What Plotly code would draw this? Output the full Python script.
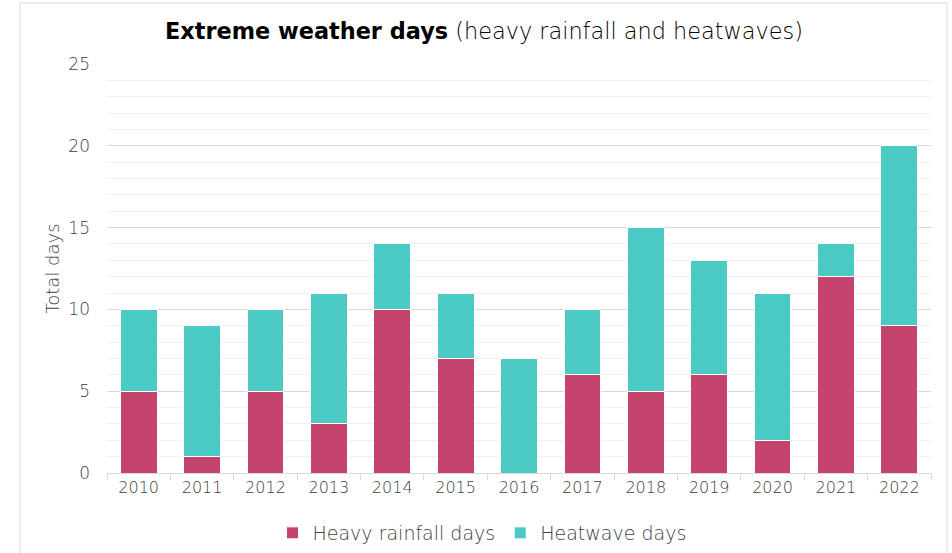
import plotly.graph_objects as go

years = ["2010", "2011", "2012", "2013", "2014", "2015", "2016", "2017", "2018", "2019", "2020", "2021", "2022"]
heavy_rainfall = [5, 1, 5, 3, 10, 7, 0, 6, 5, 6, 2, 12, 9]
heatwave = [5, 8, 5, 8, 4, 4, 7, 4, 10, 7, 9, 2, 11]

W, H = 952, 553
L, R, T, B = 107, 21, 64, 80
pw, ph = W - L - R, H - T - B

FONT = "DejaVu Sans"
fig = go.Figure()
fig.add_trace(go.Bar(x=years, y=heavy_rainfall, name="Heavy rainfall days",
                     marker=dict(color="#C4446E", line=dict(color="white", width=1))))
fig.add_trace(go.Bar(x=years, y=heatwave, name="Heatwave days",
                     marker=dict(color="#4AC9C5", line=dict(color="white", width=1))))

def px_to_paper_x(px):
    return (px - L) / pw

def px_to_paper_y(py):
    return (H - B - py) / ph

fig.add_shape(type="rect", xref="paper", yref="paper",
              x0=px_to_paper_x(20), x1=px_to_paper_x(947),
              y0=px_to_paper_y(560), y1=px_to_paper_y(3),
              line=dict(color="#D9D9D9", width=1), fillcolor="rgba(0,0,0,0)", layer="below")

fig.update_layout(
    width=W, height=H,
    margin=dict(l=L, r=R, t=T, b=B, autoexpand=False),
    barmode="stack", bargap=0.42,
    plot_bgcolor="white", paper_bgcolor="white",
    font=dict(family=FONT, color="#404040", size=16, weight=200),
    title=dict(text="<b>Extreme weather days</b> <span style='font-weight:200'>(heavy rainfall and heatwaves)</span>",
               x=484 / W, xanchor="center", y=1 - 31 / H, yanchor="middle",
               font=dict(family=FONT, size=22.4, color="#000000", weight=200)),
    xaxis=dict(type="category", showline=True, linecolor="#D9D9D9", linewidth=1,
               ticks="outside", tickson="boundaries", ticklen=6, tickcolor="#D9D9D9",
               tickfont=dict(size=16, color="#404040", weight=200), showgrid=False,
               automargin=False),
    yaxis=dict(range=[0, 25], dtick=5, showgrid=True, gridcolor="#D9D9D9", gridwidth=1,
               minor=dict(dtick=1, showgrid=True, gridcolor="#F0F0F0", gridwidth=1),
               zeroline=False, showline=False, ticks="", ticklabelstandoff=16,
               tickfont=dict(size=17, color="#404040", weight=200), automargin=False,
               title=dict(text="Total days", font=dict(size=18, color="#404040", weight=200), standoff=4)),
    legend=dict(orientation="h", x=px_to_paper_x(482), xanchor="center",
                y=px_to_paper_y(533), yanchor="middle",
                font=dict(size=19, color="#404040", weight=200), traceorder="normal",
                itemwidth=30, bgcolor="rgba(0,0,0,0)"),
)
fig.write_html("out.html", config={"displayModeBar": False},
               post_script="document.body.style.margin='0';document.body.style.overflow='hidden';")
